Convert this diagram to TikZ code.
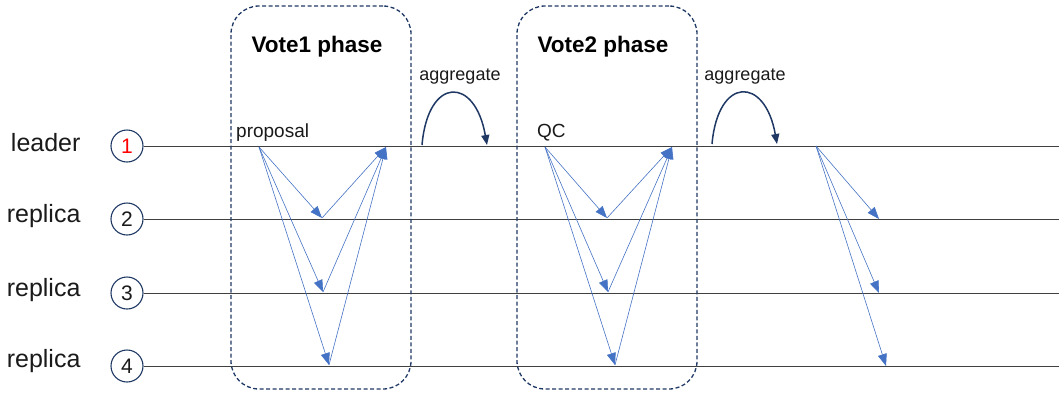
\documentclass[tikz,border=0pt]{standalone}
\usepackage{fontspec}
\setmainfont{Liberation Sans}
\usetikzlibrary{arrows.meta}
\definecolor{navy}{HTML}{1F3864}
\definecolor{msgblue}{HTML}{4472C4}
\definecolor{txt}{HTML}{1A1A1A}
\definecolor{ln}{HTML}{404040}
\begin{document}
\begin{tikzpicture}[x=1pt,y=-1pt,
  proc/.style={circle,draw=navy,line width=1.1pt,minimum size=32pt,inner sep=0pt,font=\fontsize{21}{21}\selectfont,text=txt},
  role/.style={font=\fontsize{25}{25}\selectfont,text=txt,anchor=east},
  timeline/.style={draw=ln,line width=0.8pt},
  phasebox/.style={draw=navy,dash pattern=on 4pt off 2.5pt,line width=1.3pt,rounded corners=28pt},
  phasetitle/.style={font=\bfseries\fontsize{22.5}{22.5}\selectfont,text=black},
  msg/.style={draw=msgblue,line width=0.6pt,-{Triangle[length=12pt,width=9pt]}},
  agg/.style={draw=navy,line width=1.5pt,-{Triangle[length=10pt,width=8pt]}},
  small/.style={font=\fontsize{19}{19}\selectfont,text=txt},
  aggtext/.style={font=\fontsize{18}{18}\selectfont,text=txt}
]
\useasboundingbox (0,0) rectangle (1059,394);
% processes
\node[proc,text=red] (p1) at (127,146) {1};
\node[proc] (p2) at (127,219) {2};
\node[proc] (p3) at (127,293) {3};
\node[proc] (p4) at (127,366) {4};
\node[role] (r1) at (84,143) {leader};
\node[role] (r2) at (84,216) {replica};
\node[role] (r3) at (84,290) {replica};
\node[role] (r4) at (84,361) {replica};
\coordinate (e1) at (1059,146);
\coordinate (e2) at (1059,219);
\coordinate (e3) at (1059,293);
\coordinate (e4) at (1059,366);
\draw[timeline] (p1.east) -- (e1);
\draw[timeline] (p2.east) -- (e2);
\draw[timeline] (p3.east) -- (e3);
\draw[timeline] (p4.east) -- (e4);
% phase boxes
\node[phasebox,minimum width=180pt,minimum height=383pt] (b1) at (321,197.5) {};
\node[phasebox,minimum width=180pt,minimum height=383pt] (b2) at (607,197.5) {};
\node[phasetitle] (t1) at (317,47) {Vote1 phase};
\node[phasetitle] (t2) at (603,47) {Vote2 phase};
\node[small,anchor=base west,inner sep=0pt] (prop) at (236,137) {proposal};
\node[small,anchor=base west,inner sep=0pt] (qc) at (537,137) {QC};
% vote1 messages
\coordinate (a0) at (259,147);
\coordinate (a2) at (322,218);
\coordinate (a3) at (323,292);
\coordinate (a4) at (329,365);
\coordinate (a1) at (386,147);
\draw[msg] (a0) -- (a2);
\draw[msg] (a0) -- (a3);
\draw[msg] (a0) -- (a4);
\draw[msg] (a2) -- (a1);
\draw[msg] (a3) -- (a1);
\draw[msg] (a4) -- (a1);
% vote2 messages
\coordinate (c0) at (545,147);
\coordinate (c2) at (607,218);
\coordinate (c3) at (608,292);
\coordinate (c4) at (615,365);
\coordinate (c1) at (672,147);
\draw[msg] (c0) -- (c2);
\draw[msg] (c0) -- (c3);
\draw[msg] (c0) -- (c4);
\draw[msg] (c2) -- (c1);
\draw[msg] (c3) -- (c1);
\draw[msg] (c4) -- (c1);
% final broadcast
\coordinate (d0) at (816,146);
\coordinate (d2) at (879,219);
\coordinate (d3) at (879,293);
\coordinate (d4) at (886,366);
\draw[msg] (d0) -- (d2);
\draw[msg] (d0) -- (d3);
\draw[msg] (d0) -- (d4);
% aggregate arcs
\coordinate (g1s) at (422,145);
\coordinate (g1e) at (487,145);
\coordinate (g2s) at (712,144);
\coordinate (g2e) at (777,144);
\draw[agg] (g1s) .. controls (428,76) and (475,76) .. (g1e);
\draw[agg] (g2s) .. controls (718,76) and (765,76) .. (g2e);
\node[aggtext] (ag1) at (460,77) {aggregate};
\node[aggtext] (ag2) at (745,77) {aggregate};
\end{tikzpicture}
\end{document}
